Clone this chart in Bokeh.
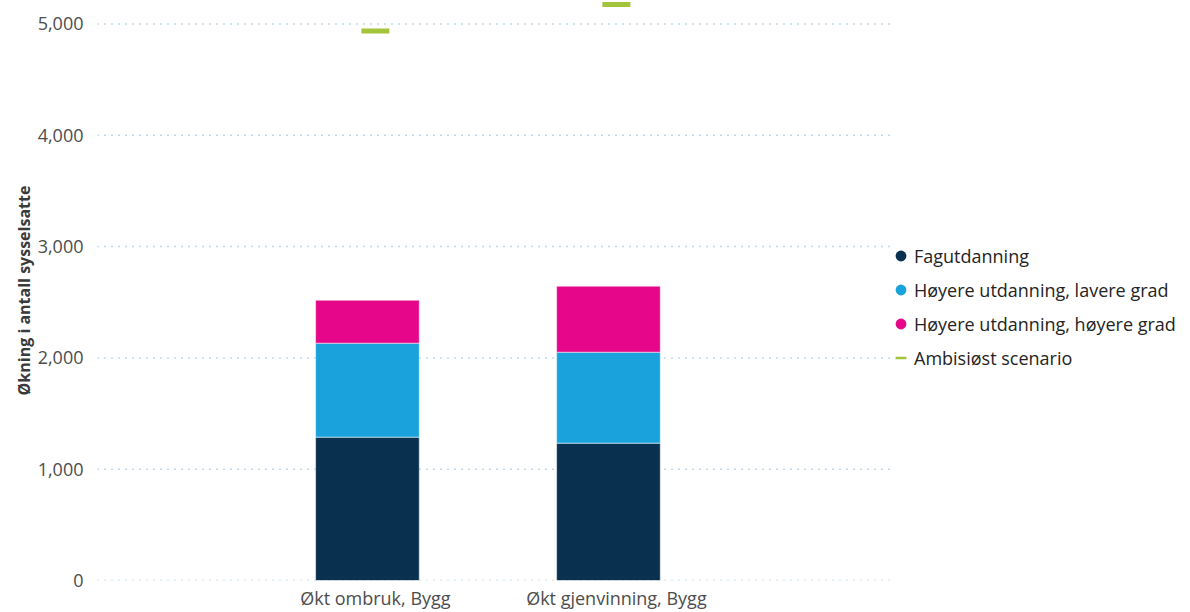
from bokeh.plotting import figure
from bokeh.models import (ColumnDataSource, Range1d, FixedTicker, NumeralTickFormatter,
                          Legend, LegendItem, Title)
from bokeh.transform import dodge
from bokeh.embed import file_html
from bokeh.resources import INLINE

# ---- data ----
categories = ["Økt ombruk, Bygg", "Økt gjenvinning, Bygg"]
fagutdanning = [1288, 1234]
hoyere_lavere = [844, 817]
hoyere_hoyere = [386, 593]
ambisiost = [4937, 5175]
series_names = ["Fagutdanning", "Høyere utdanning, lavere grad",
                "Høyere utdanning, høyere grad", "Ambisiøst scenario"]
y_ticks = [0, 1000, 2000, 3000, 4000, 5000]
y_title = "Økning i antall sysselsatte"

# ---- styles / layout ----
FONT = "Open Sans"
C_DARK = "#09304F"
C_BLUE = "#19A2DB"
C_PINK = "#E6068A"
C_GREEN = "#A3C43B"
X_START = -1.153      # left edge of plotting area (category units)
X_GRID_END = 2.141    # where the gridlines stop
X_END = 3.382         # frame extends under the legend
BAR_SHIFT = -0.033    # bars sit slightly left of category centre

xs = list(range(len(categories)))
src = ColumnDataSource(dict(
    x=xs,
    fag=fagutdanning,
    lav=hoyere_lavere,
    hoy=hoyere_hoyere,
    amb=ambisiost,
))

p = figure(width=1190, height=612, output_backend="svg", toolbar_location=None,
           x_range=Range1d(X_START, X_END), y_range=Range1d(0, 5211),
           min_border_left=97, min_border_right=0, min_border_top=0,
           min_border_bottom=31)
p.outline_line_color = None
p.background_fill_color = "white"

# gridlines (stop before legend area)
p.xgrid.visible = False
p.ygrid.visible = False
p.segment(x0=[X_START] * len(y_ticks), x1=[X_GRID_END] * len(y_ticks),
          y0=y_ticks, y1=y_ticks, line_color="#7EB2D4", line_dash="1 6",
          line_width=1.5)

p.vbar_stack(["fag", "lav", "hoy"], x=dodge("x", BAR_SHIFT), width=0.43, source=src,
             color=[C_DARK, C_BLUE, C_PINK], line_color="white", line_width=0.5)

p.rect(x="x", y="amb", width=28, height=5, width_units="screen",
       height_units="screen", source=src, fill_color=C_GREEN, line_color=None)

# legend proxies (hidden renderers)
r1 = p.scatter(x="x", y="fag", source=src, marker="circle", fill_color=C_DARK, line_color=None, visible=False)
r2 = p.scatter(x="x", y="lav", source=src, marker="circle", fill_color=C_BLUE, line_color=None, visible=False)
r3 = p.scatter(x="x", y="hoy", source=src, marker="circle", fill_color=C_PINK, line_color=None, visible=False)
r4 = p.scatter(x="x", y="amb", source=src, marker="dash", line_color=C_GREEN, line_width=2.5, visible=False)

legend = Legend(items=[LegendItem(label=series_names[0], renderers=[r1]),
                       LegendItem(label=series_names[1], renderers=[r2]),
                       LegendItem(label=series_names[2], renderers=[r3]),
                       LegendItem(label=series_names[3], renderers=[r4])],
                location=(790, 209), orientation="vertical",
                glyph_width=27, glyph_height=27, label_height=27, label_standoff=0,
                spacing=7, padding=0, margin=0,
                background_fill_alpha=0, border_line_color=None,
                inactive_fill_alpha=0,
                label_text_font=FONT, label_text_font_size="18px",
                label_text_color="#252423")
p.add_layout(legend)

# y axis
p.yaxis.ticker = FixedTicker(ticks=y_ticks)
p.yaxis.formatter = NumeralTickFormatter(format="0,0")
p.yaxis.axis_line_color = None
p.yaxis.major_tick_line_color = None
p.yaxis.major_tick_out = 0
p.yaxis.major_tick_in = 0
p.yaxis.minor_tick_line_color = None
p.yaxis.minor_tick_out = 0
p.yaxis.major_label_text_font = FONT
p.yaxis.major_label_text_font_size = "18px"
p.yaxis.major_label_text_color = "#4d4d4d"
p.yaxis.major_label_standoff = 14

p.add_layout(Title(text=y_title, align="center",
                   text_font=FONT, text_font_size="16px", text_font_style="bold",
                   text_color="#3a3a3a", standoff=0), "left")

# x axis
p.xaxis.ticker = FixedTicker(ticks=xs)
p.xaxis.major_label_overrides = {i: c for i, c in zip(xs, categories)}
p.xaxis.axis_line_color = None
p.xaxis.major_tick_line_color = None
p.xaxis.major_tick_out = 0
p.xaxis.major_tick_in = 0
p.xaxis.minor_tick_line_color = None
p.xaxis.minor_tick_out = 0
p.xaxis.major_label_text_font = FONT
p.xaxis.major_label_text_font_size = "18px"
p.xaxis.major_label_text_color = "#4d4d4d"
p.xaxis.major_label_standoff = 5

open("out.html", "w").write(file_html(p, INLINE))
